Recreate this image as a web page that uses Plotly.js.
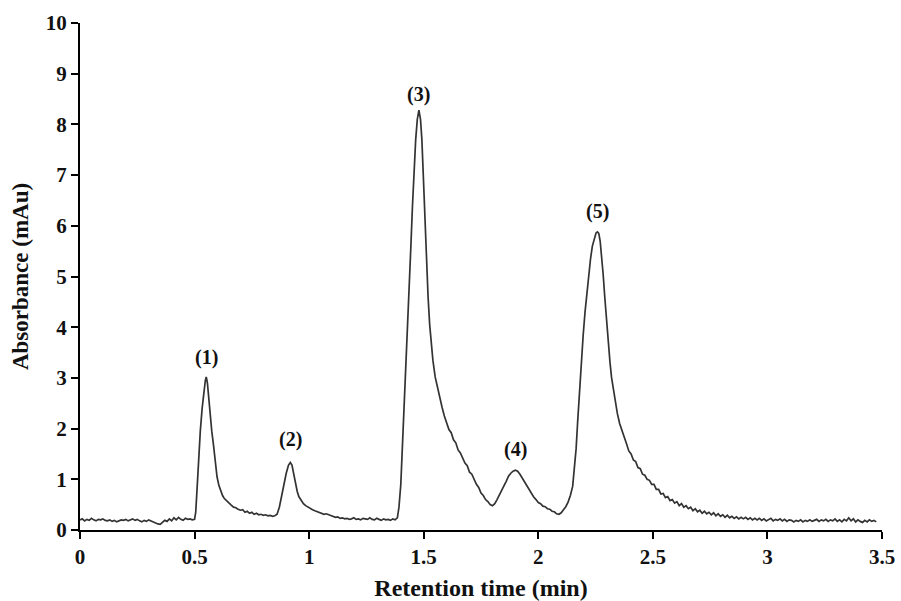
<!DOCTYPE html>
<html>
<head>
<meta charset="utf-8">
<script src="https://cdn.plot.ly/plotly-3.0.1.min.js"></script>
<style>html,body{margin:0;padding:0;background:#fff;}#chart{width:901px;height:601px;}</style>
</head>
<body>
<div id="chart"></div>
<script>
// Retention time (min)
const retentionTime = [
0.00,0.01,0.02,0.03,0.04,0.05,0.06,0.07,0.08,0.09,0.10,0.11,0.12,0.13,0.14,0.15,0.16,0.17,0.18,0.19,
0.20,0.21,0.22,0.23,0.24,0.25,0.26,0.27,0.28,0.29,0.30,0.31,0.32,0.33,0.34,0.35,0.36,0.37,0.38,0.39,
0.40,0.41,0.42,0.43,0.44,0.45,0.46,0.47,0.48,0.49,0.50,
0.505,0.512,0.518,0.525,0.533,0.540,0.547,0.551,0.556,0.562,0.568,0.575,0.582,0.590,0.598,0.606,0.614,0.622,0.630,
0.640,0.650,0.660,0.670,0.680,0.690,0.700,0.710,0.720,0.730,0.740,0.750,0.760,0.770,0.780,0.790,0.800,0.810,0.820,
0.830,0.840,0.850,0.860,0.870,0.880,0.890,0.900,0.910,0.918,0.925,0.932,0.940,0.948,0.955,0.965,0.975,0.985,0.995,
1.005,1.015,1.025,1.035,1.045,1.055,1.065,1.075,1.085,1.095,1.105,1.115,1.125,1.135,1.145,1.155,1.165,1.175,1.185,
1.195,1.205,1.215,1.225,1.235,1.245,1.255,1.265,1.275,1.285,1.295,1.305,1.315,1.325,1.335,1.345,1.355,1.365,1.375,1.385,
1.392,1.400,1.407,1.414,1.422,1.430,1.437,1.444,1.451,1.458,1.465,1.472,1.479,1.486,1.492,1.499,1.505,1.512,1.519,
1.526,1.533,1.540,1.550,1.560,1.570,1.580,1.590,1.600,1.610,1.620,1.630,1.640,1.650,1.660,1.670,1.680,1.690,1.700,
1.710,1.720,1.730,1.740,1.750,1.760,1.770,
1.780,1.790,1.800,1.810,1.820,1.830,1.840,1.850,1.860,1.870,1.880,1.890,1.900,1.910,1.920,1.930,1.940,1.950,1.960,
1.970,1.980,1.990,2.000,2.010,2.020,2.030,2.040,2.050,2.060,2.070,2.080,2.090,2.100,2.110,2.120,2.130,2.140,2.150,
2.157,2.165,2.172,2.180,2.188,2.196,2.204,2.212,2.220,2.228,2.236,2.244,2.252,2.258,2.264,2.270,2.276,2.283,2.290,
2.297,2.305,2.313,2.320,2.328,2.336,2.345,2.355,2.365,2.375,2.385,2.395,2.405,2.415,2.425,2.435,2.445,2.455,2.465,
2.475,2.485,2.495,2.505,2.515,2.525,2.535,2.545,2.555,2.565,2.575,2.585,2.595,2.605,2.615,2.625,2.635,2.645,2.655,
2.665,2.675,2.685,2.695,2.705,2.715,2.725,2.735,2.745,2.755,2.765,2.775,2.785,2.795,2.805,2.815,2.825,2.835,2.845,
2.855,2.865,2.875,2.885,2.895,2.905,2.915,2.925,2.935,2.945,2.955,2.965,2.975,2.985,2.995,3.005,3.015,3.025,3.035,
3.045,3.055,3.065,3.075,3.085,3.095,3.105,3.115,3.125,3.135,3.145,3.155,3.165,3.175,3.185,3.195,3.205,3.215,3.225,
3.235,3.245,3.255,3.265,3.275,3.285,3.295,3.305,3.315,3.325,3.335,3.345,3.355,3.365,3.375,3.385,3.395,3.405,3.415,
3.425,3.435,3.445,3.455,3.465,3.475
];
// Absorbance (mAu)
const absorbance = [
0.20,0.22,0.18,0.21,0.19,0.23,0.20,0.18,0.21,0.20,0.22,0.19,0.18,0.20,0.17,0.19,0.16,0.18,0.20,0.19,
0.21,0.18,0.20,0.22,0.19,0.21,0.18,0.16,0.19,0.17,0.20,0.18,0.15,0.14,0.12,0.11,0.15,0.19,0.17,0.22,
0.18,0.24,0.20,0.25,0.21,0.19,0.23,0.21,0.22,0.20,0.21,
0.35,0.90,1.45,1.95,2.40,2.75,2.95,3.02,2.90,2.60,2.25,1.95,1.70,1.35,1.05,0.88,0.76,0.68,0.62,
0.57,0.52,0.49,0.45,0.44,0.41,0.39,0.40,0.35,0.37,0.33,0.35,0.31,0.33,0.30,0.31,0.29,0.30,0.28,
0.29,0.27,0.28,0.31,0.45,0.68,0.90,1.12,1.28,1.33,1.28,1.12,0.92,0.76,0.66,0.58,0.52,0.48,0.45,
0.43,0.40,0.38,0.36,0.34,0.33,0.31,0.32,0.30,0.28,0.27,0.25,0.26,0.23,0.24,0.22,0.23,0.21,0.22,
0.24,0.21,0.22,0.20,0.23,0.22,0.21,0.24,0.21,0.20,0.23,0.21,0.19,0.22,0.20,0.21,0.19,0.22,0.20,0.24,
0.45,0.90,1.60,2.30,3.20,4.10,4.90,5.60,6.40,7.10,7.70,8.10,8.28,8.10,7.70,6.90,6.10,5.25,4.60,
4.05,3.65,3.35,3.02,2.80,2.58,2.42,2.25,2.12,1.98,1.92,1.78,1.72,1.58,1.52,1.42,1.32,1.27,1.14,
1.10,0.99,0.90,0.84,0.73,0.68,0.60,
0.56,0.50,0.48,0.52,0.60,0.70,0.78,0.87,0.96,1.06,1.12,1.16,1.18,1.16,1.10,1.02,0.94,0.88,0.80,
0.72,0.65,0.60,0.54,0.52,0.47,0.46,0.42,0.41,0.37,0.36,0.32,0.31,0.34,0.40,0.46,0.55,0.68,0.86,
1.15,1.60,2.15,2.75,3.30,3.85,4.30,4.70,5.05,5.35,5.60,5.75,5.86,5.88,5.85,5.70,5.45,5.05,4.60,
4.15,3.70,3.30,3.00,2.75,2.50,2.30,2.10,1.95,1.80,1.70,1.56,1.50,1.38,1.35,1.23,1.21,1.10,1.08,
1.00,0.98,0.90,0.90,0.80,0.80,0.71,0.72,0.64,0.66,0.58,0.60,0.53,0.56,0.48,0.52,0.45,0.48,0.42,
0.45,0.38,0.42,0.36,0.39,0.33,0.37,0.32,0.35,0.30,0.34,0.28,0.32,0.27,0.30,0.25,0.29,0.24,0.27,
0.23,0.26,0.22,0.25,0.22,0.25,0.21,0.24,0.20,0.23,0.20,0.23,0.19,0.22,0.18,0.21,0.23,0.18,0.21,
0.19,0.22,0.18,0.21,0.17,0.20,0.19,0.16,0.19,0.17,0.20,0.16,0.19,0.17,0.20,0.17,0.19,0.21,0.17,
0.20,0.18,0.21,0.17,0.20,0.18,0.22,0.17,0.20,0.16,0.21,0.18,0.24,0.18,0.22,0.16,0.20,0.17,0.15,
0.19,0.16,0.20,0.17,0.19,0.16
];
// Peak labels
const peakLabels = ["(1)","(2)","(3)","(4)","(5)"];
const peakLabelX = [0.551, 0.919, 1.479, 1.899, 2.257];
const peakLabelY = [3.40, 1.78, 8.58, 1.59, 6.28];

const xTickVals = [0,0.5,1,1.5,2,2.5,3,3.5];
const xTickText = ["0","0.5","1","1.5","2","2.5","3","3.5"];
const yTickVals = [0,1,2,3,4,5,6,7,8,9,10];
const yTickText = ["0","1","2","3","4","5","6","7","8","9","10"];

const serif = "Liberation Serif, Times New Roman, serif";

const trace = {
  x: retentionTime, y: absorbance, type: "scatter", mode: "lines",
  line: {color: "#333333", width: 1.7}, hoverinfo: "none", showlegend: false
};

const annotations = peakLabels.map((t, i) => ({
  x: peakLabelX[i], y: peakLabelY[i], xref: "x", yref: "y", text: t,
  showarrow: false, font: {family: serif, size: 20, color: "#111", weight: "bold"}
}));

const layout = {
  width: 901, height: 601,
  margin: {l: 80, r: 19, t: 23, b: 71},
  paper_bgcolor: "#fff", plot_bgcolor: "#fff",
  showlegend: false,
  xaxis: {
    range: [0, 3.5], tickvals: xTickVals, ticktext: xTickText,
    showgrid: false, zeroline: false, showline: true, linecolor: "#000", linewidth: 2,
    ticks: "outside", ticklen: 7, tickwidth: 2, tickcolor: "#000",
    tickfont: {family: serif, size: 21, color: "#111", weight: "bold"},
    title: {text: "Retention time (min)", font: {family: serif, size: 24, color: "#111", weight: "bold"}, standoff: 11}
  },
  yaxis: {
    range: [0, 10], tickvals: yTickVals, ticktext: yTickText,
    showgrid: false, zeroline: false, showline: true, linecolor: "#000", linewidth: 2,
    ticks: "outside", ticklen: 7, tickwidth: 2, tickcolor: "#000",
    tickfont: {family: serif, size: 21, color: "#111", weight: "bold"},
    title: {text: "Absorbance (mAu)", font: {family: serif, size: 23, color: "#111", weight: "bold"}, standoff: 11}
  },
  annotations: annotations
};

Plotly.newPlot("chart", [trace], layout, {displayModeBar: false, staticPlot: true});
</script>
</body>
</html>
